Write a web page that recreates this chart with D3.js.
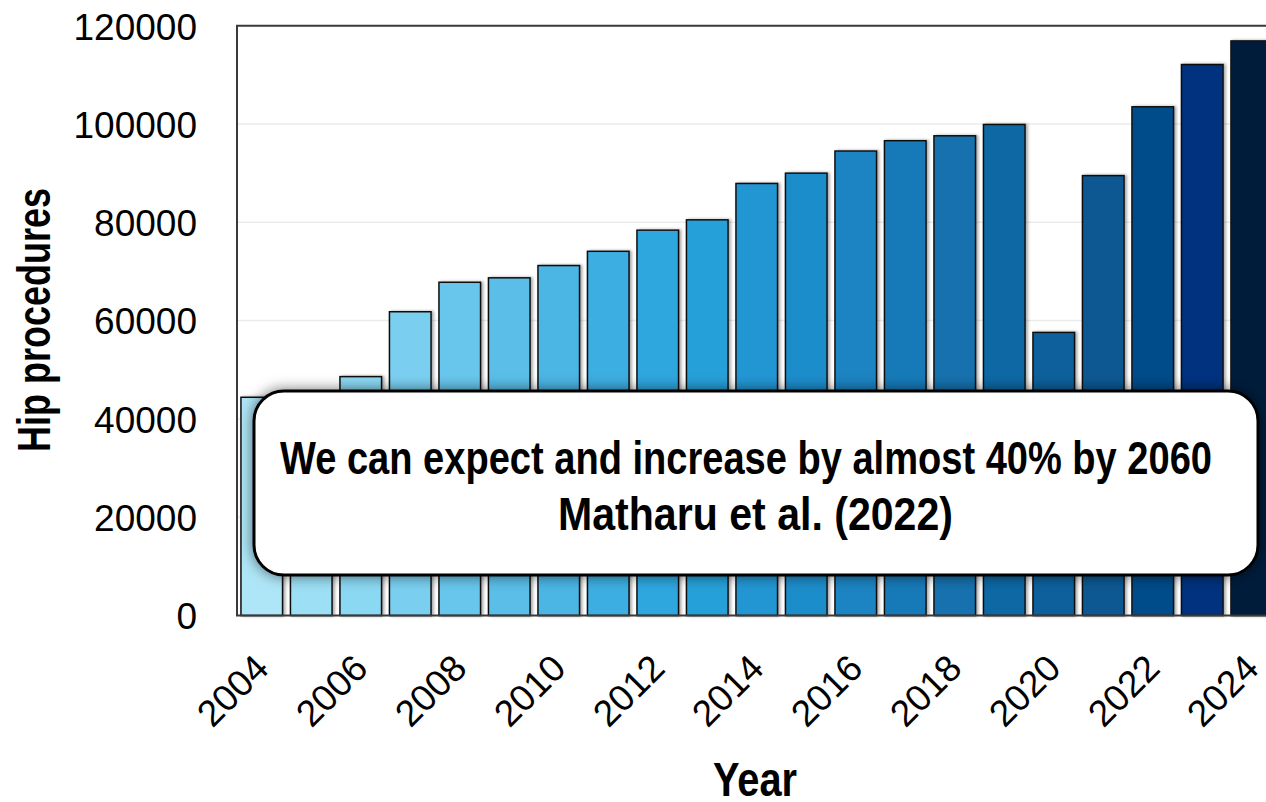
<!DOCTYPE html>
<html>
<head>
<meta charset="utf-8">
<script src="https://cdn.jsdelivr.net/npm/d3@7"></script>
<style>
html,body{margin:0;padding:0;background:#fff;overflow:hidden;}
svg{display:block;}
</style>
</head>
<body>
<svg id="chart" width="1266" height="802"></svg>
<script>
const years = ["2004","2005","2006","2007","2008","2009","2010","2011","2012","2013","2014","2015","2016","2017","2018","2019","2020","2021","2022","2023","2024"];
const procedures = [44400,45000,48600,61800,67800,68700,71200,74100,78400,80500,87900,90000,94500,96600,97600,99900,57600,89500,103500,112100,116900];
const barColors = ["#aee6f7","#9ddff5","#8bd8f2","#7acff0","#68c6ec","#5abee8","#4bb5e4","#3caee1","#2ea6de","#27a0d9","#2196d3","#1e8dcb","#1a84c2","#167ab8","#1271ae","#0e68a4","#0b619c","#075892","#054c89","#03317f","#021d3a"];
const yTicks = [0,20000,40000,60000,80000,100000,120000];
const boxLines = ["We can expect and increase by almost 40% by 2060","Matharu et al. (2022)"];

const svg = d3.select("#chart");
const plotLeft = 237, plotTop = 25.7, plotBottom = 615.5;
const plotRight = plotLeft + years.length * 49.5;
const boldFont = "'Liberation Sans', Arial, sans-serif";

const defs = svg.append("defs");
const fb = defs.append("filter").attr("id","barShadow").attr("x","-20%").attr("y","-5%").attr("width","140%").attr("height","110%");
fb.append("feDropShadow").attr("dx",2).attr("dy",0).attr("stdDeviation",1.5).attr("flood-color","#000").attr("flood-opacity",0.35);
const fbox = defs.append("filter").attr("id","boxShadow").attr("x","-10%").attr("y","-30%").attr("width","120%").attr("height","160%");
fbox.append("feDropShadow").attr("dx",0).attr("dy",0).attr("stdDeviation",7).attr("flood-color","#000").attr("flood-opacity",0.55);

const x = d3.scaleBand().domain(years).range([plotLeft, plotRight]).paddingInner(0.16).paddingOuter(0.08);
const y = d3.scaleLinear().domain([0,120000]).range([plotBottom, plotTop]);

// gridlines
svg.append("g").selectAll("line").data(yTicks.filter(d=>d>0 && d<120000)).join("line")
  .attr("x1",plotLeft).attr("x2",plotRight).attr("y1",d=>y(d)).attr("y2",d=>y(d))
  .attr("stroke","#ebebeb").attr("stroke-width",1.5);

// bars
svg.append("g").selectAll("rect").data(years).join("rect")
  .attr("x",d=>x(d)).attr("width",x.bandwidth())
  .attr("y",(d,i)=>y(procedures[i])).attr("height",(d,i)=>plotBottom - y(procedures[i]))
  .attr("fill",(d,i)=>barColors[i])
  .attr("stroke","#111").attr("stroke-width",1.5)
  .attr("filter","url(#barShadow)");

// frame
svg.append("path").attr("d",`M${plotRight},${plotTop}H${plotLeft}V${plotBottom}H${plotRight}`)
  .attr("fill","none").attr("stroke","#3a3a3a").attr("stroke-width",2);

// y axis
const yAxis = d3.axisLeft(y).tickValues(yTicks).tickSize(0).tickPadding(0).tickFormat(d=>String(d));
const gy = svg.append("g").attr("transform",`translate(197,0)`).call(yAxis);
gy.select(".domain").remove();
gy.selectAll("text").attr("font-family","'Liberation Sans', Arial, sans-serif").attr("font-size",37).attr("fill","#000").attr("dy","0.36em");

// x axis
const xAxis = d3.axisBottom(x).tickValues(years.filter((d,i)=>i%2===0)).tickSize(0).tickPadding(0);
const gx = svg.append("g").attr("transform",`translate(0,${plotBottom})`).call(xAxis);
gx.select(".domain").remove();
gx.selectAll("text").attr("font-family","'Liberation Sans', Arial, sans-serif").attr("font-size",37).attr("fill","#000")
  .attr("text-anchor","end").attr("dy",0).attr("y",0)
  .attr("transform","translate(9,55) rotate(-45)");

// axis titles
svg.append("text").attr("x",713).attr("y",796)
  .attr("font-family",boldFont).attr("font-weight","bold").attr("font-size",48)
  .attr("textLength",84).attr("lengthAdjust","spacingAndGlyphs")
  .text("Year");
svg.append("text").attr("transform","translate(50,452) rotate(-90)")
  .attr("font-family",boldFont).attr("font-weight","bold").attr("font-size",46)
  .attr("textLength",264).attr("lengthAdjust","spacingAndGlyphs")
  .text("Hip procedures");

// annotation box
const bx = 254, by = 391, bw = 1004, bh = 184;
svg.append("rect").attr("x",bx).attr("y",by).attr("width",bw).attr("height",bh).attr("rx",30).attr("ry",30)
  .attr("fill","#fff").attr("stroke","#000").attr("stroke-width",3).attr("filter","url(#boxShadow)");
const lineX = [280, 558], lineLen = [932, 395], lineY = [474, 530];
svg.append("g").selectAll("text").data(boxLines).join("text")
  .attr("x",(d,i)=>lineX[i]).attr("y",(d,i)=>lineY[i])
  .attr("textLength",(d,i)=>lineLen[i]).attr("lengthAdjust","spacingAndGlyphs")
  .attr("font-family",boldFont).attr("font-weight","bold").attr("font-size",47)
  .attr("fill","#000").text(d=>d);
</script>
</body>
</html>
